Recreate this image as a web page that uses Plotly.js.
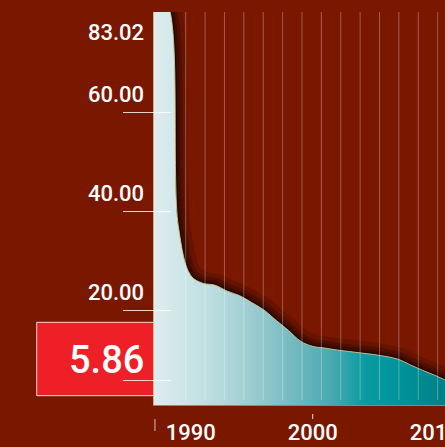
<!DOCTYPE html>
<html>
<head>
<meta charset="utf-8">
<script src="https://cdn.plot.ly/plotly-3.0.1.min.js"></script>
<style>
html,body{margin:0;padding:0;overflow:hidden;background:#7a1700;}
#chart{width:447px;height:447px;}
</style>
</head>
<body>
<div id="chart"></div>
<script>
// ---- data ----
const years = [1987, 1988, 1989, 1990, 1991, 1992, 1993, 1994, 1995, 1996, 1997, 1998, 1999,
               2000, 2001, 2002, 2003, 2004, 2005, 2006, 2007, 2008, 2009, 2010, 2011];
const values = [83.02, 82.5, 37, 27.2, 25.6, 25.2, 24.0, 23.1, 21.7, 20.2, 18.1, 16.1, 13.9,
                12.85, 12.5, 12.1, 11.8, 11.5, 11.2, 10.8, 10.25, 9.1, 8.0, 7.0, 5.86];
const yTickVals = [5.86, 20, 40, 60];
const yTickText = ['', '20.00', '40.00', '60.00'];
const xTickVals = [1990, 2000, 2010];
const xTickText = ['1990', '2000', '2010'];

const maxLabel = Math.max(...values).toFixed(2);
const lastLabel = values[values.length - 1].toFixed(2);

const FONT = 'Roboto, "DejaVu Sans", sans-serif';
const BG = '#7a1700';

// shadow layers under the curve
const shadowSpec = [[24, 0.15], [15, 0.2], [9, 0.25], [4, 0.35]];
const traces = shadowSpec.map(([w, o]) => ({
  type: 'scatter', mode: 'lines', x: years, y: values,
  line: {color: '#000', width: w, shape: 'spline'}, opacity: o,
  hoverinfo: 'skip', showlegend: false
}));

traces.push({
  type: 'scatter', mode: 'lines', x: years, y: values,
  fill: 'tozeroy',
  fillgradient: {
    type: 'horizontal',
    colorscale: [[0, '#deedef'], [0.2, '#bcdde0'], [0.4, '#8bc4c9'], [0.6, '#4aaab0'],
                 [0.72, '#0a9ba2'], [0.85, '#00929a'], [1, '#007e86']]
  },
  line: {color: 'rgba(215,195,140,0.9)', width: 1, shape: 'spline'},
  hoverinfo: 'skip', showlegend: false
});

// invisible trace to bind the tick axis
traces.push({
  type: 'scatter', mode: 'markers', x: [years[0]], y: [values[values.length - 1]],
  yaxis: 'y2', marker: {opacity: 0}, hoverinfo: 'skip', showlegend: false
});

// decorative vertical lines over the area
const shapes = [];
for (let g = 1989.596; g < 2011; g += 1.5876) {
  shapes.push({type: 'line', xref: 'x', yref: 'paper', x0: g, x1: g, y0: 0.0127, y1: 1,
               line: {color: 'rgba(255,255,255,0.3)', width: 1}, layer: 'above'});
}
// small tick marks under the axis
shapes.push({type: 'line', xref: 'x', yref: 'paper', x0: 2000, x1: 2000, y0: -0.0229, y1: -0.0356,
             line: {color: 'rgba(255,255,255,0.85)', width: 1}});
shapes.push({type: 'line', xref: 'x', yref: 'paper', x0: 1987.08, x1: 1987.08, y0: -0.0356, y1: -0.0662,
             line: {color: 'rgba(255,255,255,0.7)', width: 1}});
// red value box
shapes.push({type: 'rect', xref: 'paper', yref: 'paper', x0: -0.4003, x1: 0, y0: 0.0237, y1: 0.2104,
             fillcolor: '#ee1f27', line: {color: 'rgba(255,235,235,0.9)', width: 1}, layer: 'below'});

// y tick labels sit above their tick lines
const annotations = yTickVals.map((v, i) => ({
  xref: 'paper', yref: 'y', x: -0.0283, y: v, yshift: 18, xanchor: 'right', yanchor: 'middle',
  text: yTickText[i], showarrow: false, font: {family: FONT, size: 22, weight: 500, color: '#ffffff'}
})).filter(a => a.text !== '');
annotations.push(
  {xref: 'paper', yref: 'paper', x: -0.0283, y: 0.947, xanchor: 'right', yanchor: 'middle',
   text: maxLabel, showarrow: false, font: {family: FONT, size: 22, weight: 500, color: '#ffffff'}},
  {xref: 'paper', yref: 'paper', x: -0.0283, y: 0.1145, xanchor: 'right', yanchor: 'middle',
   text: lastLabel, showarrow: false, font: {family: FONT, size: 38, weight: 500, color: '#ffffff'}}
);

const layout = {
  width: 447, height: 447,
  margin: {l: 154, r: 0, t: 12, b: 42},
  paper_bgcolor: BG, plot_bgcolor: 'rgba(0,0,0,0)',
  showlegend: false,
  font: {family: FONT, color: '#ffffff'},
  xaxis: {
    range: [1987, 2011], showgrid: false, zeroline: false,
    tickmode: 'array', tickvals: xTickVals, ticktext: xTickText, ticks: '',
    tickfont: {family: FONT, size: 22, weight: 500, color: '#ffffff'},
    ticklabelstandoff: 8, ticklabeloverflow: 'allow',
    showline: true, linecolor: 'rgba(190,150,120,0.8)', linewidth: 1,
    fixedrange: true
  },
  yaxis: {
    range: [1.0, 80.4], showgrid: false, zeroline: false,
    showticklabels: false, ticks: '',
    showline: true, linecolor: 'rgba(215,195,140,0.9)', linewidth: 1,
    fixedrange: true
  },
  yaxis2: {
    overlaying: 'y', anchor: 'free', position: 0.058, side: 'left',
    range: [1.0, 80.4], showgrid: false, zeroline: false, showline: false,
    tickmode: 'array', tickvals: yTickVals, showticklabels: false,
    ticks: 'outside', ticklen: 48, tickwidth: 1, tickcolor: 'rgba(255,255,255,0.8)',
    fixedrange: true
  },
  shapes: shapes,
  annotations: annotations
};

Plotly.newPlot('chart', traces, layout, {displayModeBar: false, staticPlot: true});
</script>
</body>
</html>
